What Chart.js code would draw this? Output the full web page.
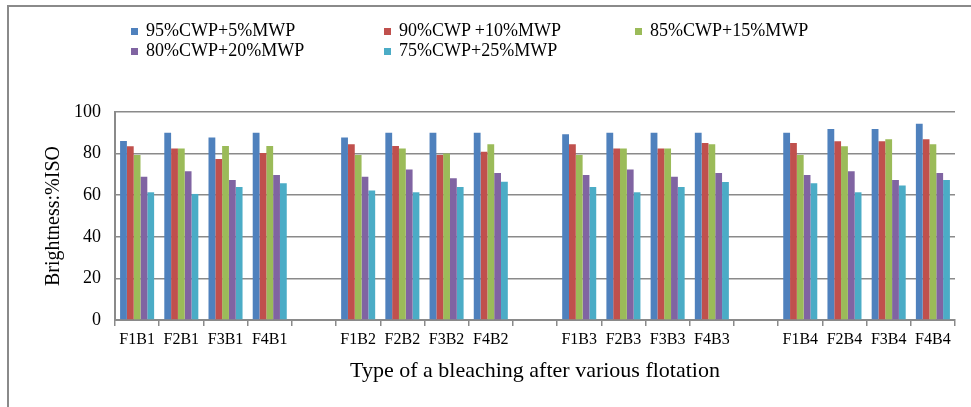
<!DOCTYPE html>
<html>
<head>
<meta charset="utf-8">
<script src="https://cdn.jsdelivr.net/npm/chart.js@4.4.1/dist/chart.umd.min.js"></script>
<style>
  body { margin: 0; background: #fff; }
  #wrap { position: relative; width: 971px; height: 407px; overflow: hidden; }
  #frame { position: absolute; left: 7px; top: 5px; width: 980px; height: 420px;
           border-top: 2px solid #8a8a8a; border-left: 2px solid #8a8a8a; }
  #chart { position: absolute; left: 0; top: 0; }
  .leg { position: absolute; font-family: "Liberation Serif", "Times New Roman", serif;
         font-size: 18px; color: #000; white-space: nowrap; line-height: 20px; }
  .leg span { display: inline-block; width: 7px; height: 7px; margin-right: 8px; vertical-align: 1px; }
</style>
</head>
<body>
<div id="wrap">
  <div id="frame"></div>
  <canvas id="chart" width="971" height="407"></canvas>
  <div id="legend"></div>
</div>
<script>
// categories ('' = gap between bleaching groups)
const categories = ['F1B1', 'F2B1', 'F3B1', 'F4B1', '',
                    'F1B2', 'F2B2', 'F3B2', 'F4B2', '',
                    'F1B3', 'F2B3', 'F3B3', 'F4B3', '',
                    'F1B4', 'F2B4', 'F3B4', 'F4B4'];

const seriesNames = ['95%CWP+5%MWP', '90%CWP +10%MWP', '85%CWP+15%MWP', '80%CWP+20%MWP', '75%CWP+25%MWP'];
const seriesColors = ['#4F81BD', '#C0504D', '#9BBB59', '#8064A2', '#4BACC6'];

const cwp95 = [86, 90, 87.7, 90, null, 87.7, 90, 90, 90, null, 89.3, 90, 90, 90, null, 90, 91.8, 91.8, 94.4];
const cwp90 = [83.5, 82.5, 77.4, 80.3, null, 84.5, 83.7, 79.3, 80.9, null, 84.5, 82.5, 82.5, 85.1, null, 85.1, 85.9, 85.9, 86.9];
const cwp85 = [79.3, 82.5, 83.7, 83.7, null, 79.3, 82.5, 80.1, 84.5, null, 79.3, 82.5, 82.5, 84.5, null, 79.3, 83.5, 86.9, 84.5];
const cwp80 = [68.9, 71.5, 67.3, 69.7, null, 68.9, 72.4, 68.1, 70.7, null, 69.7, 72.4, 68.9, 70.7, null, 69.7, 71.5, 67.3, 70.7];
const cwp75 = [61.4, 60.6, 63.9, 65.7, null, 62.3, 61.4, 63.9, 66.5, null, 63.9, 61.4, 63.9, 66.3, null, 65.7, 61.4, 64.7, 67.3];

const yTicks = [0, 20, 40, 60, 80, 100];

const seriesData = [cwp95, cwp90, cwp85, cwp80, cwp75];

// legend laid out like the original (two rows, left aligned columns)
const legendPos = [[131, 20], [384, 20], [635, 20], [131, 40], [384, 40]];
const legendBox = document.getElementById('legend');
seriesNames.forEach((name, i) => {
    let item = document.createElement('div');
    item.className = 'leg';
    item.style.left = legendPos[i][0] + 'px';
    item.style.top = legendPos[i][1] + 'px';
    item.innerHTML = '<span style="background:' + seriesColors[i] + '"></span>' + name;
    legendBox.appendChild(item);
});

const serif = '"Liberation Serif", "Times New Roman", serif';
Chart.defaults.font.family = serif;
Chart.defaults.color = '#000';

var ctx = document.getElementById('chart').getContext('2d');
new Chart(ctx, {
    type: 'bar',
    data: {
        labels: categories,
        datasets: seriesData.map((vals, i) => ({
            label: seriesNames[i],
            data: vals,
            backgroundColor: seriesColors[i],
            borderWidth: 0,
            categoryPercentage: 0.77,
            barPercentage: 1.0
        }))
    },
    options: {
        responsive: false,
        animation: false,
        layout: { padding: { left: 0, right: 16, top: 112, bottom: 0 } },
        plugins: { legend: { display: false }, tooltip: { enabled: false } },
        scales: {
            x: {
                offset: true,
                grid: { drawOnChartArea: false, drawTicks: true, tickLength: 6, offset: true, color: '#8a8a8a', lineWidth: 1.5 },
                border: { color: '#8a8a8a', width: 2 },
                ticks: { font: { size: 16 }, padding: 4, maxRotation: 0, autoSkip: false },
                title: { display: true, text: 'Type of a bleaching after various flotation',
                         font: { size: 22 }, padding: { top: 0, bottom: 23 } },
                afterFit: (scale) => { scale.height = 87; }
            },
            y: {
                min: 0,
                max: 100,
                afterBuildTicks: (scale) => { scale.ticks = yTicks.map(v => ({ value: v })); },
                grid: { color: '#8a8a8a', lineWidth: 1.5, drawTicks: false },
                border: { color: '#8a8a8a', width: 2 },
                ticks: { font: { size: 18 }, padding: 14 },
                title: { display: true, text: 'Brightness:%ISO', font: { size: 20 }, padding: { top: 42, bottom: 0 } },
                afterFit: (scale) => { scale.width = 115; }
            }
        }
    }
});
</script>
</body>
</html>
